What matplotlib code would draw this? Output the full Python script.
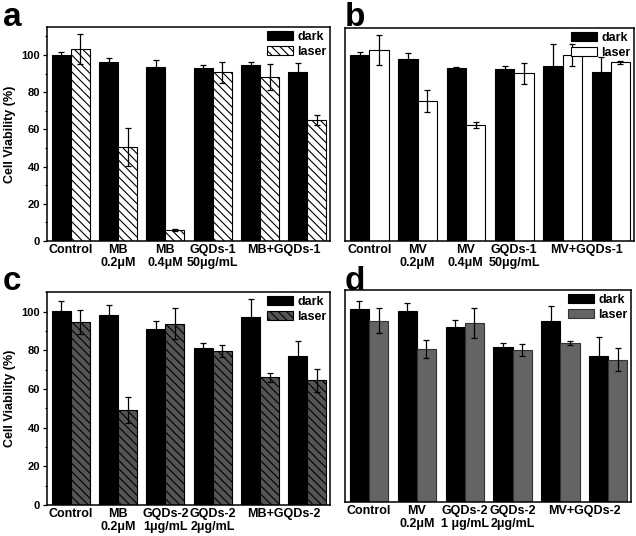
import numpy as np
import matplotlib
matplotlib.use('Agg')
import matplotlib.pyplot as plt

plt.rcParams['font.family'] = ['Liberation Sans', 'DejaVu Sans']
plt.rcParams['font.weight'] = 'bold'
plt.rcParams['hatch.linewidth'] = 0.8

# panel a: MB
labels_a = ['Control', 'MB\n0.2μM', 'MB\n0.4μM', 'GQDs-1\n50μg/mL', 'MB+GQDs-1']
dark_a = [100, 96.5, 93.3, 92.8, 94.4, 90.6]
dark_a_err = [1.5, 1.7, 4, 2, 1.6, 4.9]
laser_a = [103.3, 50.4, 6, 90.6, 88.1, 65]
laser_a_err = [8, 10.3, 0.5, 5.8, 7, 2.5]

# panel b: MV
labels_b = ['Control', 'MV\n0.2μM', 'MV\n0.4μM', 'GQDs-1\n50μg/mL', 'MV+GQDs-1']
dark_b = [100.5, 98.5, 93.3, 92.8, 94.6, 91.2]
dark_b_err = [1.4, 3.3, 0.7, 2, 12, 8.4]
laser_b = [103.2, 75.7, 62.6, 90.6, 100.5, 96.6]
laser_b_err = [8, 5.8, 1.8, 5.8, 5.7, 0.8]

# panel c: MB + GQDs-2
labels_c = ['Control', 'MB\n0.2μM', 'GQDs-2\n1μg/mL', 'GQDs-2\n2μg/mL', 'MB+GQDs-2']
dark_c = [100.3, 98.4, 91.2, 81.2, 97.4, 76.8]
dark_c_err = [5, 5, 4, 2.3, 9, 8]
laser_c = [94.8, 49, 93.6, 79.5, 66.1, 64.4]
laser_c_err = [6.2, 6.8, 8, 3, 2.4, 6]

# panel d: MV + GQDs-2
labels_d = ['Control', 'MV\n0.2μM', 'GQDs-2\n1 μg/mL', 'GQDs-2\n2μg/mL', 'MV+GQDs-2']
dark_d = [100, 99.3, 90.7, 80.5, 93.8, 75.8]
dark_d_err = [4.5, 3.8, 4, 2.2, 8, 10]
laser_d = [94.1, 79.6, 93.1, 78.8, 82.5, 73.9]
laser_d_err = [6.4, 4.7, 7.8, 3.1, 0.8, 6]

fig = plt.figure(figsize=(6.36, 5.36), dpi=100)

W = 0.4
label_pos = [0, 1, 2, 3, 4.5]


def panel(rect, dark, dark_err, laser, laser_err, labels, ylim, laser_style, show_y):
    ax = fig.add_axes(rect)
    x = np.arange(len(dark))
    ek = dict(ecolor='black', elinewidth=0.9, capsize=2.2, capthick=0.9)
    ax.bar(x - W / 2, dark, W, yerr=dark_err, color='black', edgecolor='black',
           linewidth=0.8, error_kw=ek, label='dark')
    ax.bar(x + W / 2, laser, W, yerr=laser_err, linewidth=0.8, error_kw=ek,
           label='laser', **laser_style)
    ax.set_xlim(-0.5, 5.48)
    ax.set_ylim(*ylim)
    ax.set_xticks(label_pos)
    ax.set_xticklabels(labels, fontsize=9, fontweight='bold', linespacing=1.1)
    ax.tick_params(axis='x', length=0, pad=2)
    for s in ax.spines.values():
        s.set_linewidth(1.1)
    if show_y:
        ax.set_yticks(np.arange(0, 101, 20))
        ax.set_yticks(np.arange(10, 111, 20), minor=True)
        ax.tick_params(axis='y', which='major', length=3, width=0.9, labelsize=8, pad=2)
        ax.tick_params(axis='y', which='minor', length=1.8, width=0.8)
        for t in ax.get_yticklabels():
            t.set_fontweight('bold')
        ax.set_ylabel('Cell Viability (%)', fontsize=9, fontweight='bold', labelpad=4)
    else:
        ax.set_yticks([])
    leg = ax.legend(loc='upper right', frameon=False, fontsize=9, handlelength=2.1,
                    handleheight=0.75, handletextpad=0.3, labelspacing=0.25,
                    borderaxespad=0.15, borderpad=0.15)
    for t in leg.get_texts():
        t.set_fontweight('bold')
    return ax


panel([0.074, 0.5504, 0.445, 0.399], dark_a, dark_a_err, laser_a, laser_a_err, labels_a,
      (0, 115), dict(color='white', edgecolor='black', hatch='\\\\\\\\'), True)
panel([0.5425, 0.5504, 0.4544, 0.397], dark_b, dark_b_err, laser_b, laser_b_err, labels_b,
      (0, 115), dict(color='white', edgecolor='black'), False)
panel([0.074, 0.0578, 0.445, 0.397], dark_c, dark_c_err, laser_c, laser_c_err, labels_c,
      (0, 110), dict(color='#555555', edgecolor='black', hatch='\\\\\\\\'), True)
panel([0.5425, 0.0634, 0.45, 0.3955], dark_d, dark_d_err, laser_d, laser_d_err, labels_d,
      (0, 110), dict(color='#646464', edgecolor='#333333'), False)

for lab, x, y in [('a', 0.005, 0.952), ('b', 0.542, 0.952), ('c', 0.005, 0.459), ('d', 0.542, 0.459)]:
    fig.text(x, y, lab, fontsize=24, fontweight='bold')

fig.savefig('out.png', dpi=100)
